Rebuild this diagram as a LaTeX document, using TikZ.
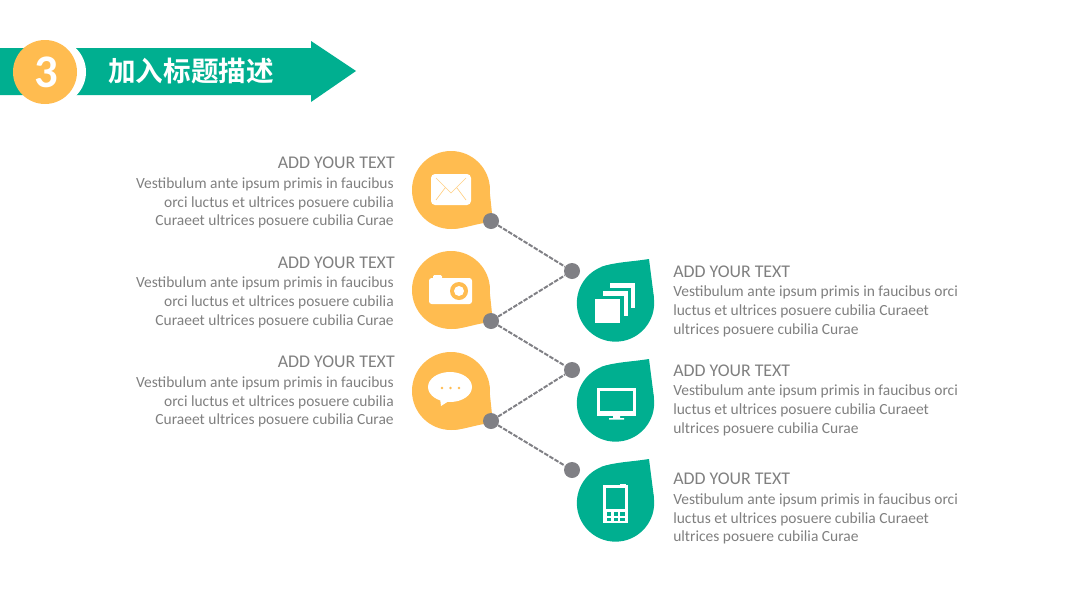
\documentclass[tikz,border=0pt]{standalone}
\usepackage{fontspec}
\setmainfont{Carlito}
\newfontfamily\cjk{Noto Sans CJK SC Bold}
\definecolor{tealc}{RGB}{0,175,144}
\definecolor{amberc}{RGB}{255,188,80}
\definecolor{greyc}{RGB}{127,127,127}
\definecolor{dotc}{RGB}{128,128,133}
\newcommand{\pxfont}[2]{\fontsize{#1pt}{#2pt}\selectfont}
\newcommand{\bodyL}{Vestibulum ante ipsum primis in faucibus\\orci luctus et ultrices posuere cubilia\\Curaeet ultrices posuere cubilia Curae}
\newcommand{\bodyR}{Vestibulum ante ipsum primis in faucibus orci\\luctus et ultrices posuere cubilia Curaeet\\ultrices posuere cubilia Curae}
\begin{document}
\begin{tikzpicture}[x=0.75pt,y=-0.75pt,
  dotn/.style={circle,fill=dotc,minimum size=12pt,inner sep=0pt},
  link/.style={draw=dotc,line width=1.5pt,dash pattern=on 3.4pt off 1.1pt},
  headL/.style={anchor=east,text=greyc,inner sep=0pt,font=\pxfont{13.4}{15}},
  headR/.style={anchor=west,text=greyc,inner sep=0pt,font=\pxfont{13.4}{15}},
  bodyl/.style={anchor=east,align=right,text=greyc,inner sep=0pt,font=\pxfont{11.62}{14}},
  bodyr/.style={anchor=west,align=left,text=greyc,inner sep=0pt,font=\pxfont{11.62}{14}}]
\useasboundingbox (0,0) rectangle (1067,600);
% banner
\fill[tealc] (0,48) -- (311,48) -- (311,41) -- (356,71) -- (311,102) -- (311,95) -- (0,95) -- cycle;
\fill[white] (53,72) circle[radius=24.75pt];
\fill[amberc] (45,72) circle[radius=24pt];
\node[text=white,inner sep=0pt,font=\bfseries\pxfont{35}{35}] (num) at (46,72) {3};
\node[text=white,inner sep=0pt,anchor=west,font=\cjk\pxfont{20.7}{24}] (title) at (108,71) {加入标题描述};
% amber drops
\foreach \yy in {190,290,391}{
 \fill[amberc] (451,\yy) circle[radius=29.25pt];
 \fill[amberc] (451,\yy) -- (488.5,\yy-10) -- (492.5,\yy+28) -- (491,\yy+31) -- (484,\yy+33) .. controls (472,\yy+35) and (462,\yy+39) .. (451,\yy+39) -- cycle;
}
% teal drops
\foreach \yy in {303,403,503}{
 \fill[tealc] (615.5,\yy) circle[radius=29pt];
 \fill[tealc] (615.5,\yy) -- (601,\yy-36) .. controls (615,\yy-41) and (630,\yy-41) .. (649,\yy-44) -- (654,\yy-5) -- cycle;
}
% links
\node[dotn] (a1) at (491,221) {};
\node[dotn] (a2) at (491,321) {};
\node[dotn] (a3) at (491,421) {};
\node[dotn] (b1) at (572,271) {};
\node[dotn] (b2) at (572,370) {};
\node[dotn] (b3) at (572,470) {};
\draw[link] (a1) -- (b1);
\draw[link] (a2) -- (b1);
\draw[link] (a2) -- (b2);
\draw[link] (a3) -- (b2);
\draw[link] (a3) -- (b3);
% envelope
\fill[white,rounded corners=3pt] (431,174) rectangle (471,205);
\draw[amberc!70!white,line width=0.5pt] (436,178) -- (451,193) -- (466,178) (436,200) -- (445,188) (466,200) -- (457,188);
% camera
\fill[white,rounded corners=2pt] (429,278) rectangle (472,304);
\fill[white,rounded corners=1pt] (433,275) rectangle (442,279);
\fill[amberc] (459,291) circle[radius=6.75pt];
\fill[white] (459,291) circle[radius=3.75pt];
% bubble
\fill[white] (450,387) ellipse[x radius=16.5pt,y radius=11.25pt];
\fill[white] (440,398) -- (441,406) -- (452,399) -- cycle;
\fill[amberc] (442,388) circle[radius=1pt] (450.5,388) circle[radius=1pt] (459,388) circle[radius=1pt];
% copies
\fill[white] (610,283) rectangle (635,308);
\fill[tealc] (610,287.5) rectangle (631,311);
\fill[white] (603,291) rectangle (628,316);
\fill[tealc] (603,295.5) rectangle (624,319);
\fill[white] (595,299) rectangle (620,323);
% monitor
\fill[white] (597,388) rectangle (636,416);
\fill[tealc] (599.5,391) rectangle (633,411);
\fill[white] (613,416) rectangle (620,418) (609,418) rectangle (624,419.5);
% phone
\fill[white] (603,485) rectangle (628,523);
\fill[white] (620,484) rectangle (626,486);
\fill[tealc] (606,488) rectangle (625,509);
\foreach \cx in {606.5,613.5,620}{\foreach \cy in {512,517.5}{\fill[tealc] (\cx,\cy) rectangle ++(4.7,3.5);}}
% left texts
\node[headL] (h1) at (395,162.5) {ADD YOUR TEXT};
\node[bodyl] (t1) at (394,203) {\bodyL};
\node[headL] (h2) at (395,262.5) {ADD YOUR TEXT};
\node[bodyl] (t2) at (394,302.5) {\bodyL};
\node[headL] (h3) at (395,361.5) {ADD YOUR TEXT};
\node[bodyl] (t3) at (394,402) {\bodyL};
% right texts
\node[headR] (h4) at (673,271.5) {ADD YOUR TEXT};
\node[bodyr] (t4) at (673,311.5) {\bodyR};
\node[headR] (h5) at (673,370.5) {ADD YOUR TEXT};
\node[bodyr] (t5) at (673,410.5) {\bodyR};
\node[headR] (h6) at (673,478.5) {ADD YOUR TEXT};
\node[bodyr] (t6) at (673,519) {\bodyR};
\end{tikzpicture}
\end{document}
